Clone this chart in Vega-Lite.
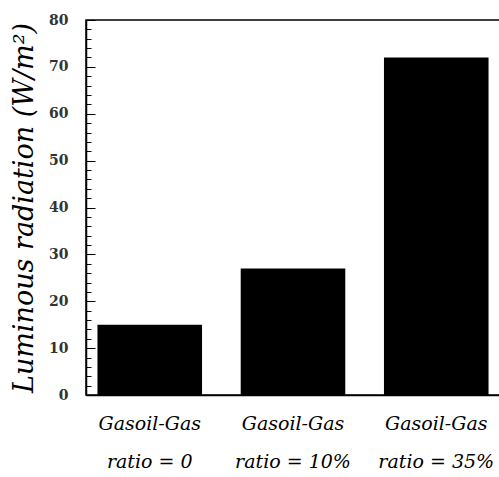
{
  "$schema": "https://vega.github.io/schema/vega-lite/v6.json",
  "autosize": "none",
  "width": 414,
  "height": 375,
  "padding": {"left": 86, "top": 20, "right": 0, "bottom": 82},
  "background": "white",
  "config": {"view": {"stroke": "black", "strokeWidth": 1.5}},
  "data": {"values": [
    {"case": "Gasoil-Gas|ratio = 0", "radiation": 15},
    {"case": "Gasoil-Gas|ratio = 10%", "radiation": 27},
    {"case": "Gasoil-Gas|ratio = 35%", "radiation": 72}
  ]},
  "mark": {"type": "bar", "color": "black"},
  "encoding": {
    "x": {
      "field": "case", "type": "nominal", "sort": null,
      "scale": {"paddingInner": 0.27, "paddingOuter": 0.08},
      "axis": {
        "title": null, "labelAngle": 0, "ticks": false,
        "domainColor": "black", "domainWidth": 1.5,
        "labelExpr": "split(datum.label, '|')",
        "labelFont": "DejaVu Serif", "labelFontStyle": "italic",
        "labelFontSize": 19, "labelLineHeight": 38, "labelColor": "black",
        "labelPadding": 19
      }
    },
    "y": {
      "field": "radiation", "type": "quantitative",
      "scale": {"domain": [0, 80], "nice": false},
      "axis": {
        "values": [0,2,4,6,8,10,12,14,16,18,20,22,24,26,28,30,32,34,36,38,40,42,44,46,48,50,52,54,56,58,60,62,64,66,68,70,72,74,76,78,80],
        "labelExpr": "datum.value % 10 === 0 ? datum.label : ''",
        "labelOverlap": false,
        "tickSize": {"condition": {"test": "datum.value % 10 === 0", "value": -9}, "value": -5},
        "tickColor": "black", "domainColor": "black", "domainWidth": 1.5,
        "grid": false,
        "labelFont": "DejaVu Serif", "labelFontWeight": "bold",
        "labelFontSize": 14, "labelColor": "#333333", "labelPadding": 27,
        "title": "Luminous radiation  (W/m²)",
        "titleFont": "DejaVu Serif", "titleFontStyle": "italic",
        "titleFontWeight": "normal", "titleFontSize": 27, "titleColor": "black",
        "titlePadding": 10
      }
    }
  }
}
